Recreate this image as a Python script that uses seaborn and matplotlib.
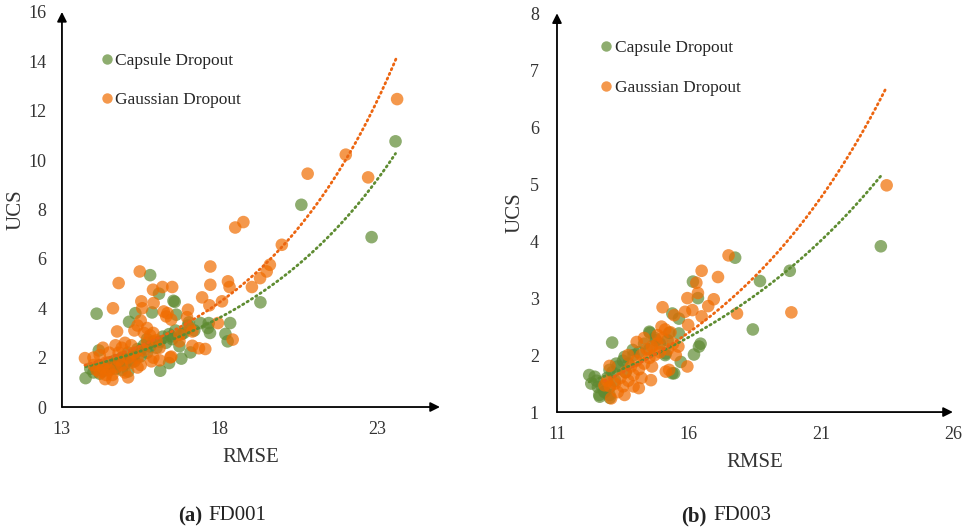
import numpy as np
import pandas as pd
import matplotlib
matplotlib.use("Agg")
import matplotlib.pyplot as plt
from matplotlib.lines import Line2D
import seaborn as sns

sns.set_theme(style="white")
plt.rcParams['font.family'] = ['Liberation Serif', 'DejaVu Serif']

# ---------------- data ----------------
# FD001
fd1_caps_rmse = [13.75, 14.10, 14.17, 15.80, 16.08, 16.54, 16.63, 15.86, 15.33, 15.13,
                 16.12, 16.40, 16.79, 17.08, 16.73, 16.47, 16.87, 17.03, 17.66, 17.70,
                 17.63, 18.19, 18.26, 18.34, 19.30, 20.60, 22.83, 23.59, 15.10, 16.58,
                 13.90, 14.00, 14.10, 14.20, 14.30, 14.40, 14.50, 14.50, 14.60, 14.70,
                 14.70, 14.80, 14.90, 15.00, 15.00, 15.10, 15.20, 15.30, 15.30, 15.40,
                 15.50, 15.50, 15.60, 15.70, 15.80, 15.90, 16.00, 16.10, 16.20, 16.30,
                 16.40, 16.50, 16.60, 16.80, 17.00, 17.20, 17.40, 14.20, 14.90, 15.70]
fd1_caps_ucs = [1.17, 3.78, 2.29, 5.34, 4.59, 4.30, 3.74, 3.83, 3.80, 3.45,
                1.47, 1.78, 1.96, 2.21, 2.46, 2.86, 3.00, 3.43, 3.40, 3.00,
                3.20, 2.96, 2.66, 3.40, 4.24, 8.19, 6.88, 10.76, 1.44, 4.26,
                1.55, 1.40, 1.55, 1.70, 1.45, 1.60, 1.80, 1.50, 1.70, 1.55,
                1.90, 1.75, 2.00, 1.75, 1.95, 2.20, 1.90, 2.15, 1.85, 2.35,
                2.05, 2.30, 2.50, 2.20, 2.45, 2.65, 2.40, 2.65, 2.85, 2.60,
                2.95, 2.75, 3.10, 2.95, 3.30, 3.10, 3.40, 1.35, 1.50, 2.75]
fd1_gaus_rmse = [13.73, 14.37, 14.62, 14.80, 14.75, 15.47, 15.52, 15.55, 15.89, 16.19,
                 16.50, 15.91, 16.23, 16.31, 16.47, 17.00, 16.97, 17.05, 17.14, 17.45,
                 17.71, 17.71, 17.68, 18.08, 18.27, 18.32, 17.95, 18.42, 17.14, 17.35,
                 17.55, 16.44, 16.10, 15.84, 16.73, 16.73, 18.50, 18.76, 19.03, 19.29,
                 19.50, 19.60, 19.98, 20.80, 22.01, 22.72, 23.64,
                 14.00, 14.10, 14.20, 14.30, 14.40, 14.50, 14.60, 14.70, 14.80, 14.90,
                 15.00, 15.10, 15.20, 15.30, 15.40, 15.50, 15.60, 15.70, 15.80, 15.90,
                 15.60, 15.40, 15.30, 15.50, 15.70, 16.00, 16.10, 15.20, 14.90, 14.70,
                 14.50, 14.20, 14.30, 14.00, 14.80, 15.00, 15.10, 14.60, 15.40, 15.90,
                 14.40, 16.35, 16.47]
fd1_gaus_ucs = [1.98, 1.13, 4.00, 5.02, 3.06, 5.49, 4.28, 4.00, 4.75, 4.86,
                4.86, 4.21, 3.87, 3.67, 3.54, 3.94, 3.64, 3.20, 3.06, 4.44,
                5.69, 4.95, 4.12, 4.28, 5.09, 4.86, 3.40, 2.73, 2.48, 2.38,
                2.35, 2.01, 1.89, 1.85, 2.66, 2.93, 7.27, 7.49, 4.86, 5.22,
                5.49, 5.76, 6.57, 9.45, 10.22, 9.30, 12.47,
                1.70, 1.50, 1.40, 1.60, 1.80, 1.50, 1.30, 1.60, 1.90, 1.70,
                1.40, 2.00, 1.80, 2.20, 2.00, 1.70, 2.30, 2.60, 2.90, 3.00,
                3.00, 3.30, 3.10, 3.50, 3.20, 2.70, 2.40, 2.50, 2.40, 2.50,
                2.20, 2.10, 2.40, 2.00, 2.20, 2.60, 1.20, 1.10, 1.60, 2.00,
                1.30, 3.80, 2.04]

# FD003
fd3_caps_rmse = [12.22, 12.43, 13.09, 14.52, 15.37, 15.62, 15.62, 15.37, 15.69, 16.15,
                 16.34, 16.44, 16.19, 17.75, 18.69, 18.42, 19.82, 23.27, 13.56, 13.87,
                 13.24, 15.12, 15.19, 14.75, 12.99, 12.55, 12.80, 12.99, 15.25, 16.38,
                 15.44, 14.50, 12.62, 13.00,
                 12.50, 12.70, 12.90, 13.10, 13.30, 13.50, 13.70, 13.90, 14.10, 14.30,
                 14.50, 14.70, 14.90, 15.10, 13.20, 13.60, 12.80, 12.60, 13.00, 12.30]
fd3_caps_ucs = [1.65, 1.62, 2.22, 2.39, 2.73, 2.64, 2.38, 1.68, 1.88, 3.29,
                3.00, 2.20, 2.01, 3.71, 3.30, 2.45, 3.48, 3.91, 1.97, 2.09,
                1.85, 2.03, 2.26, 2.26, 1.74, 1.44, 1.36, 1.30, 2.39, 2.15,
                1.68, 2.41, 1.27, 1.44,
                1.55, 1.45, 1.60, 1.70, 1.80, 1.90, 1.85, 2.00, 2.05, 2.20,
                2.10, 2.30, 2.20, 2.00, 1.55, 1.70, 1.35, 1.30, 1.25, 1.50]
fd3_gaus_rmse = [17.50, 16.48, 17.10, 16.28, 16.34, 15.94, 16.94, 16.73, 15.00, 15.85,
                 16.13, 16.48, 15.44, 15.97, 17.82, 19.88, 23.49, 14.96, 14.81, 15.94,
                 15.12, 14.02, 12.99, 12.80, 13.05, 13.56, 14.10, 14.56, 15.25,
                 13.20, 13.40, 13.50, 13.60, 13.70, 13.80, 13.90, 14.00, 14.10, 14.20,
                 14.30, 14.40, 14.50, 14.60, 14.70, 14.80, 14.90, 15.00, 15.20, 15.40,
                 15.50, 15.60, 13.30, 13.90, 14.20, 13.00, 12.90, 14.60, 15.30, 15.10,
                 14.30, 13.70]
fd3_gaus_ucs = [3.75, 3.48, 3.37, 3.27, 3.09, 3.00, 2.98, 2.86, 2.84, 2.76,
                2.79, 2.68, 2.70, 2.53, 2.73, 2.75, 4.98, 2.50, 2.35, 1.80,
                1.71, 2.23, 1.81, 1.47, 1.24, 1.30, 1.42, 1.56, 1.74,
                1.50, 1.60, 1.45, 1.70, 1.55, 1.80, 1.65, 1.90, 1.75, 2.00,
                1.85, 2.10, 1.95, 2.15, 2.00, 2.20, 2.05, 2.30, 2.10, 2.20,
                2.00, 2.15, 1.35, 1.45, 1.60, 1.45, 1.55, 1.80, 2.40, 2.45,
                2.30, 2.00]

series_names = ["Capsule Dropout", "Gaussian Dropout"]
panel_titles = ["FD001", "FD003"]
panel_tags = ["(a)", "(b)"]

palette = {"Capsule Dropout": "#5E8A32", "Gaussian Dropout": "#F06C00"}
trend_colors = {"Capsule Dropout": "#5E8C31", "Gaussian Dropout": "#EC6510"}

def make_df(cr, cu, gr, gu):
    return pd.concat([
        pd.DataFrame({"RMSE": cr, "UCS": cu, "Method": series_names[0]}),
        pd.DataFrame({"RMSE": gr, "UCS": gu, "Method": series_names[1]}),
    ], ignore_index=True)

df1 = make_df(fd1_caps_rmse, fd1_caps_ucs, fd1_gaus_rmse, fd1_gaus_ucs)
df3 = make_df(fd3_caps_rmse, fd3_caps_ucs, fd3_gaus_rmse, fd3_gaus_ucs)

fig = plt.figure(figsize=(9.68, 5.31), dpi=100)
ax1 = fig.add_axes([0.064, 0.2335, 0.3905, 0.744])
ax2 = fig.add_axes([0.5754, 0.224, 0.409, 0.751])

def draw(ax, df, xlim, ylim, xticks, yticks, leg_anchor, ypad, ylabpad):
    sns.scatterplot(data=df, x="RMSE", y="UCS", hue="Method", palette=palette,
                    s=82, alpha=0.7, edgecolor="none", ax=ax, legend=False, zorder=3)
    # exponential trend lines (least squares on log UCS, like a spreadsheet trendline)
    for name in series_names:
        sub = df[df["Method"] == name]
        b, a = np.polyfit(sub["RMSE"], np.log(sub["UCS"]), 1)
        xs = np.linspace(sub["RMSE"].min(), sub["RMSE"].max(), 200)
        ax.plot(xs, np.exp(a + b * xs), linestyle=(0, (0.5, 1.35)), lw=2.0,
                color=trend_colors[name], dash_capstyle="round", zorder=4)
    ax.set_xlim(*xlim)
    ax.set_ylim(*ylim)
    ax.set_xticks(xticks)
    ax.set_yticks(yticks)
    ax.tick_params(length=0, labelsize=13, colors="#333333")
    ax.tick_params(axis="x", pad=10)
    ax.tick_params(axis="y", pad=ypad)
    for sp in ax.spines.values():
        sp.set_visible(False)
    ax.annotate("", xy=(1.0, 0), xytext=(0, 0), xycoords="axes fraction",
                arrowprops=dict(arrowstyle="-|>", color="black", lw=1.3,
                                mutation_scale=14, shrinkA=0, shrinkB=0))
    ax.annotate("", xy=(0, 1.0), xytext=(0, 0), xycoords="axes fraction",
                arrowprops=dict(arrowstyle="-|>", color="black", lw=1.3,
                                mutation_scale=14, shrinkA=0, shrinkB=0))
    ax.set_xlabel("RMSE", fontsize=15, color="#333333", labelpad=7)
    ax.set_ylabel("UCS", fontsize=15, color="#333333", labelpad=ylabpad)
    handles = [Line2D([], [], marker="o", linestyle="none", markersize=7.5,
                      markerfacecolor=palette[n], markeredgecolor="none", alpha=0.7)
               for n in series_names]
    ax.legend(handles, series_names, loc="upper left", bbox_to_anchor=leg_anchor,
              frameon=False, fontsize=12.5, handletextpad=-0.1, labelspacing=1.35,
              handlelength=1.2, borderaxespad=0)

draw(ax1, df1, (13, 25), (0, 16), [13, 18, 23], list(range(0, 17, 2)), (0.072, 0.915), 11, 2)
draw(ax2, df3, (11, 26), (1, 8), [11, 16, 21, 26], list(range(1, 9)), (0.08, 0.95), 13, 4)

for sx, tag, title in [(204, panel_tags[0], panel_titles[0]), (709, panel_tags[1], panel_titles[1])]:
    fig.text((sx - 2) / 968, 1 - 516 / 531, tag, ha="right", va="center",
             fontsize=15, fontweight="bold", color="#222222")
    fig.text((sx + 4) / 968, 1 - 516 / 531, title, ha="left", va="center",
             fontsize=15, color="#222222")

fig.savefig("out.png", dpi=100)
